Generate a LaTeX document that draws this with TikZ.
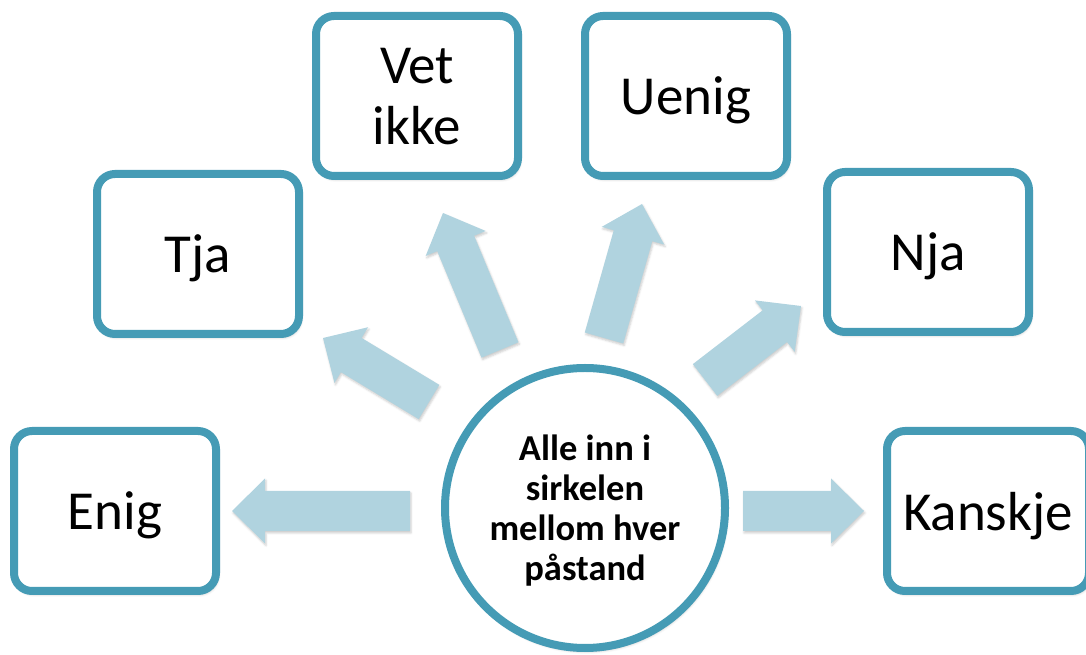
\documentclass[tikz,border=0pt]{standalone}
\usepackage{fontspec}
\setmainfont{Carlito}
\usetikzlibrary{calc,positioning,shadows.blur}
\definecolor{rimteal}{RGB}{69,155,181}
\definecolor{arrowblue}{RGB}{176,211,223}

\begin{document}
\begin{tikzpicture}[x=1pt,y=1pt]
		\tikzset{answer/.style={draw=rimteal, line width=8pt, fill=white, rounded corners=18pt, minimum width=202pt, minimum height=160pt, inner sep=0pt, align=center, text depth=0pt, font=\fontsize{55}{61}\selectfont, blur shadow={shadow xshift=1.5pt, shadow yshift=-3pt, shadow blur radius=3pt, shadow opacity=30}},
			hub/.style={circle, draw=rimteal, line width=8pt, fill=white, minimum size=280pt, inner sep=0pt, align=center, text depth=0pt, font=\bfseries\fontsize{36.5}{40}\selectfont, blur shadow={shadow xshift=1.5pt, shadow yshift=-3pt, shadow blur radius=3pt, shadow opacity=30}},
			fatarrow/.style={fill=arrowblue, blur shadow={shadow xshift=1pt, shadow yshift=-2pt, shadow blur radius=2pt, shadow opacity=20}, to path={
				let \p1=(\tikztostart), \p2=(\tikztotarget), \n1={atan2(\y2-\y1,\x2-\x1)}, \n2={veclen(\x2-\x1,\y2-\y1)-33} in
				($(\p1)+(\n1-90:20)$) -- ($(\p1)+(\n1:\n2)+(\n1-90:20)$) -- ($(\p1)+(\n1:\n2)+(\n1-90:32.5)$) -- (\p2)
				-- ($(\p1)+(\n1:\n2)+(\n1+90:32.5)$) -- ($(\p1)+(\n1:\n2)+(\n1+90:20)$) -- ($(\p1)+(\n1+90:20)$) -- cycle}}}
		\useasboundingbox (0,0) rectangle (1086,655);
		% arrow ends
		\coordinate (enig0) at (410,144);
		\coordinate (enig1) at (232,144);
		\coordinate (tja0) at (429,253);
		\coordinate (tja1) at (323,317);
		\coordinate (vet0) at (500,305);
		\coordinate (vet1) at (443,442);
		\coordinate (uenig0) at (604,317);
		\coordinate (uenig1) at (642,451);
		\coordinate (nja0) at (705,275);
		\coordinate (nja1) at (801,349);
		\coordinate (kanskje0) at (743,144);
		\coordinate (kanskje1) at (864,144);
		\fill[fatarrow] (enig0) to (enig1);
		\fill[fatarrow] (tja0) to (tja1);
		\fill[fatarrow] (vet0) to (vet1);
		\fill[fatarrow] (uenig0) to (uenig1);
		\fill[fatarrow] (nja0) to (nja1);
		\fill[fatarrow] (kanskje0) to (kanskje1);
		\node[hub] (hub) at (585,147) {Alle inn i\\sirkelen\\mellom hver\\påstand};
		\node[answer] (enig) at (115,144) {Enig};
		\node[answer] (tja) at (198,401) {Tja};
		\node[answer] (vet) at (417,559) {Vet\\ikke};
		\node[answer] (uenig) at (686,559) {Uenig};
		\node[answer] (nja) at (928,403) {Nja};
		\node[answer] (kanskje) at (988,144) {Kanskje};
	\end{tikzpicture}
\end{document}
